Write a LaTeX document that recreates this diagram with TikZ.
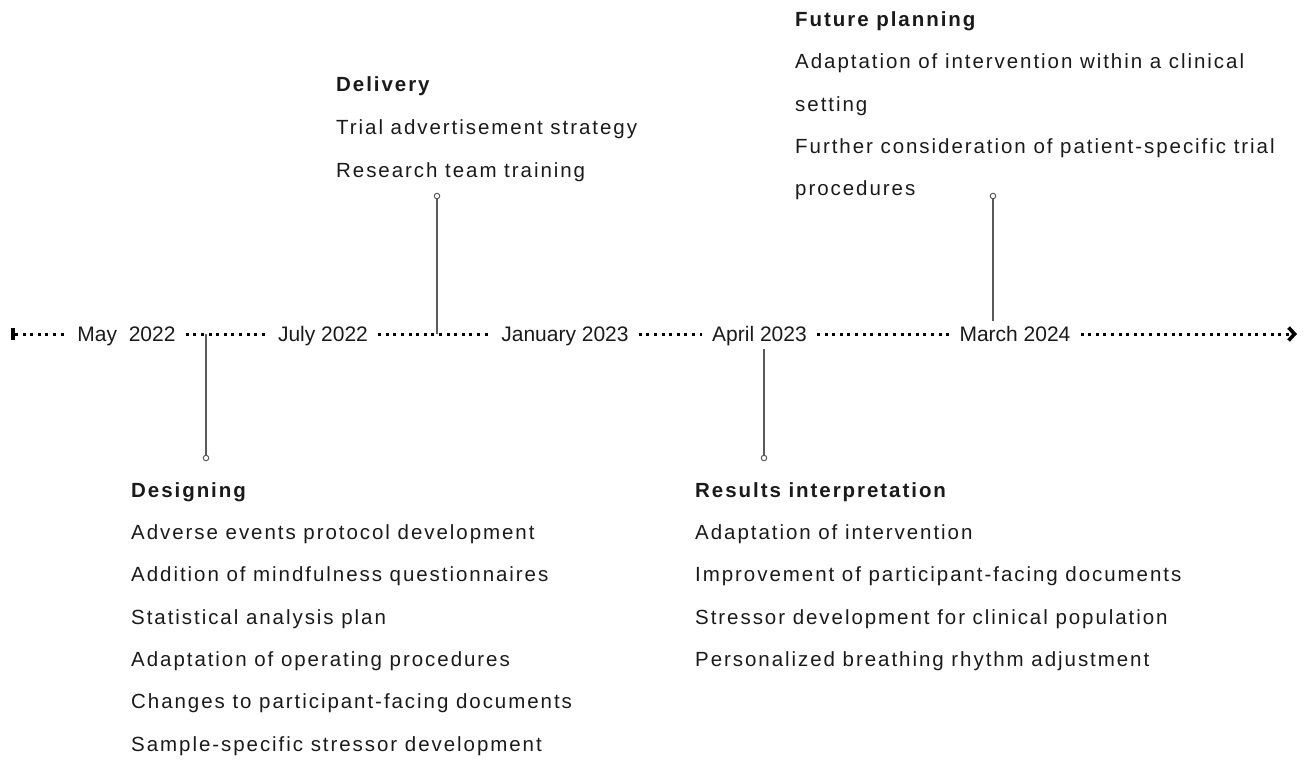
\documentclass[tikz,border=0pt]{standalone}
\usepackage{fontspec}
\setmainfont{Liberation Sans}
\newfontfamily\stagefont{Liberation Sans}[LetterSpace=9.5]
\usetikzlibrary{arrows.meta,positioning}
\definecolor{inkgray}{HTML}{1A1A1A}
\definecolor{stemgray}{HTML}{5A5A5A}

\begin{document}
\begin{tikzpicture}[x=1pt, y=-1pt,
    date/.style={font=\fontsize{21}{25}\selectfont, text=inkgray, text height=15pt, text depth=0pt, inner ysep=0pt, inner xsep=10pt},
    head/.style={anchor=base west, inner sep=0pt, font=\stagefont\bfseries\fontsize{20.5}{25}\selectfont, text=inkgray},
    itm/.style={anchor=base west, inner sep=0pt, font=\stagefont\fontsize{20.5}{25}\selectfont, text=inkgray},
    tl/.style={line width=3pt, dash pattern=on 3pt off 4.6pt},
    stem/.style={stemgray, line width=1.2pt},
    pin/.style={circle, draw=stemgray, fill=white, line width=1pt, inner sep=0pt, minimum size=5.5pt}
]
\useasboundingbox (0,0) rectangle (1304,760);

% timeline
\node[fill=black, inner sep=0pt, minimum width=3.5pt, minimum height=12pt] (t0) at (13,334) {};
\node[date] (may) at (126.5,334) {May~~2022};
\node[date] (july) at (323,334) {July 2022};
\node[date] (jan) at (565,334) {January 2023};
\node[date] (apr) at (759.5,334) {April 2023};
\node[date] (mar) at (1015,334) {March 2024};
\coordinate (tEnd) at (1297,334);

% stems
\coordinate (dsgRoot) at (206,334);
\node[pin] (dsgPin) at (206,458) {};
\coordinate (dlvRoot) at (437,334);
\node[pin] (dlvPin) at (437,196) {};
\coordinate (resRoot) at (764,349);
\node[pin] (resPin) at (764,458) {};
\coordinate (futRoot) at (993,321);
\node[pin] (futPin) at (993,196) {};
\draw[stem] (dsgRoot) -- (dsgPin);
\draw[stem] (dlvRoot) -- (dlvPin);
\draw[stem] (resRoot) -- (resPin);
\draw[stem] (futRoot) -- (futPin);

\draw[tl] (t0.east) -- (may);
\draw[tl] (may) -- (july);
\draw[tl] (july) -- (jan);
\draw[tl] (jan) -- (apr);
\draw[tl] (apr) -- (mar);
\draw[tl, -{Straight Barb[length=6pt, width=13pt, line width=3.6pt]}] (mar) -- (tEnd);

% delivery
\node[head] (dlv0) at (336,92) {Delivery};
\node[itm] (dlv1) at (336,134.5) {Trial advertisement strategy};
\node[itm] (dlv2) at (336,177) {Research team training};

% future planning
\node[head] (fut0) at (795,27) {Future planning};
\node[itm] (fut1) at (795,69) {Adaptation of intervention within a clinical};
\node[itm] (fut2) at (795,111) {setting};
\node[itm] (fut3) at (795,153) {Further consideration of patient-specific trial};
\node[itm] (fut4) at (795,195) {procedures};

% designing
\node[head] (dsg0) at (131,497) {Designing};
\node[itm] (dsg1) at (131,539.3) {Adverse events protocol development};
\node[itm] (dsg2) at (131,581.6) {Addition of mindfulness questionnaires};
\node[itm] (dsg3) at (131,624) {Statistical analysis plan};
\node[itm] (dsg4) at (131,666.3) {Adaptation of operating procedures};
\node[itm] (dsg5) at (131,708.6) {Changes to participant-facing documents};
\node[itm] (dsg6) at (131,751) {Sample-specific stressor development};

% results interpretation
\node[head] (res0) at (695,497) {Results interpretation};
\node[itm] (res1) at (695,539.3) {Adaptation of intervention};
\node[itm] (res2) at (695,581.6) {Improvement of participant-facing documents};
\node[itm] (res3) at (695,624) {Stressor development for clinical population};
\node[itm] (res4) at (695,666.3) {Personalized breathing rhythm adjustment};
\end{tikzpicture}
\end{document}
